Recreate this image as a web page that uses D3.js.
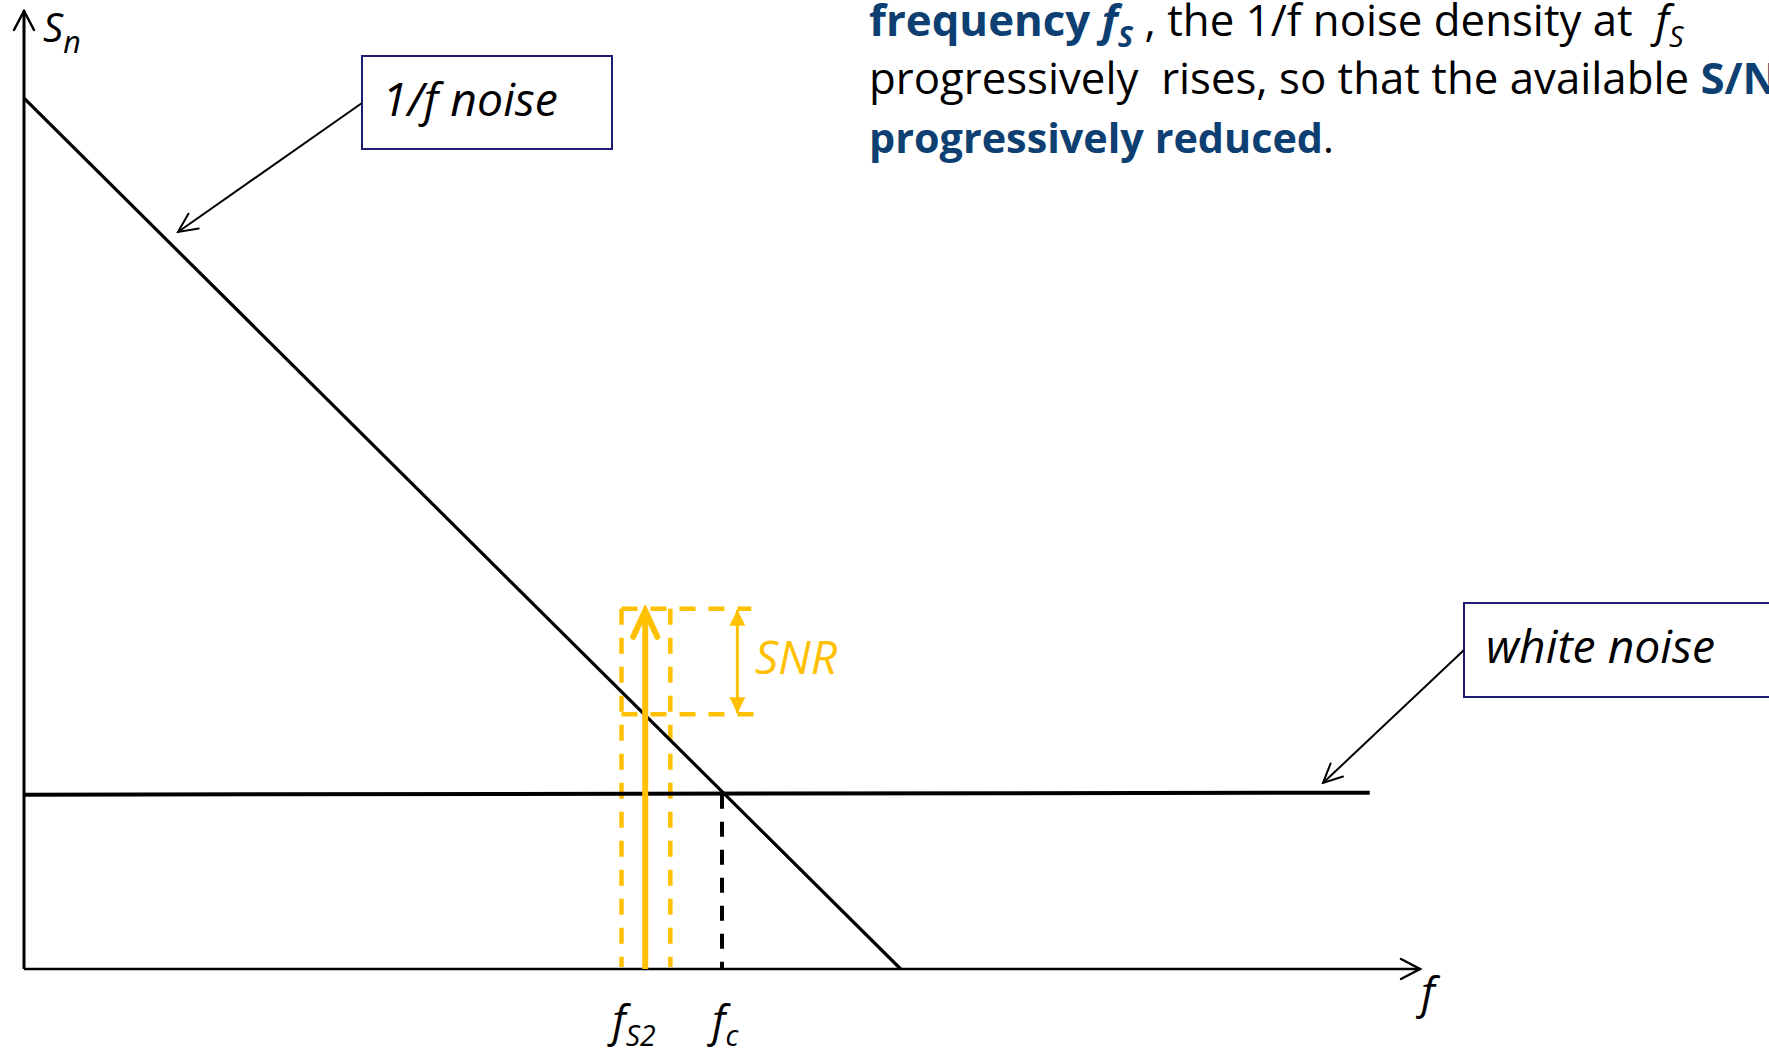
<!DOCTYPE html>
<html>
<head>
<meta charset="utf-8">
<script src="https://cdn.jsdelivr.net/npm/d3@7"></script>
<style>
  html, body { margin: 0; padding: 0; background: #fff; overflow: hidden; }
  svg { display: block; font-family: "Open Sans", "Noto Sans", sans-serif; }
  text { white-space: pre; }
</style>
</head>
<body>
<svg id="chart" width="1769" height="1052"></svg>
<script>
// ---- values (arbitrary linear units: frequency 0..10, noise density 0..10) ----
const freqDomain = [0, 10];
const densityDomain = [0, 10];
const flickerNoise = [{ f: 0, s: 9.09 }, { f: 6.28, s: 0 }];   // 1/f noise asymptote
const whiteNoise = [{ f: 0, s: 1.82 }, { f: 9.64, s: 1.84 }];  // white noise floor
const cornerFreq = 5.0;                                       // f_c
const signalFreq = 4.45;                                      // f_S2
const signalLevel = 3.76;                                     // signal amplitude at f_S2
const noiseAtSignal = 2.66;                                   // 1/f density at f_S2
const bandEdges = [4.28, 4.63];                               // band around f_S2
const snrMarkerFreq = 5.11;
const snrGuideEnds = [5.21, 5.26];                            // top / bottom guide ends
const tickLabels = [
  { f: signalFreq, main: "f", sub: "S2" },
  { f: cornerFreq, main: "f", sub: "c" }
];
const boxLabels = ["1/f noise", "white noise"];
const textLines = [
  [
    { t: "frequency ", b: 1, c: "blue" },
    { t: "f", b: 1, i: 1, c: "blue" },
    { t: "S", b: 1, i: 1, c: "blue", sub: 1 },
    { t: " , the 1/f noise density at  " },
    { t: "f", i: 1 },
    { t: "S", i: 1, sub: 1 }
  ],
  [
    { t: "progressively  rises, so that the available " },
    { t: "S/N", b: 1, c: "blue" }
  ],
  [
    { t: "progressively reduced", b: 1, c: "blue" },
    { t: "." }
  ]
];

// ---- styles ----
const BLUE = "#0d3f72";
const GOLD = "#ffc000";
const NAVY = "#1c1c73";

const svg = d3.select("#chart");
const x = d3.scaleLinear().domain(freqDomain).range([24, 1420]);
const y = d3.scaleLinear().domain(densityDomain).range([969, 11]);
const line = d3.line().x(d => x(d.f)).y(d => y(d.s));

// ---- markers ----
const defs = svg.append("defs");
function chevron(id, w, h, sw, color) {
  defs.append("marker").attr("id", id)
    .attr("viewBox", `${-h - sw} ${-w - sw} ${h + 2 * sw} ${2 * w + 2 * sw}`)
    .attr("markerUnits", "userSpaceOnUse")
    .attr("markerWidth", h + 2 * sw).attr("markerHeight", 2 * w + 2 * sw)
    .attr("refX", 0).attr("refY", 0).attr("orient", "auto")
    .append("path").attr("d", `M${-h},${-w}L0,0L${-h},${w}`)
    .attr("fill", "none").attr("stroke", color).attr("stroke-width", sw)
    .attr("stroke-linecap", "round").attr("stroke-linejoin", "miter");
}
chevron("axisHead", 10, 19, 2.5, "#000");
chevron("callHead", 9, 19, 2, "#000");
chevron("sigHead", 12, 26, 6, GOLD);
defs.append("marker").attr("id", "triHead")
  .attr("viewBox", "-16 -9 17 18").attr("markerUnits", "userSpaceOnUse")
  .attr("markerWidth", 17).attr("markerHeight", 18)
  .attr("refX", 0).attr("refY", 0).attr("orient", "auto-start-reverse")
  .append("path").attr("d", "M-16,-8L0,0L-16,8Z").attr("fill", GOLD);

// ---- axes ----
svg.append("line").attr("x1", x(0)).attr("y1", y(0)).attr("x2", x(0)).attr("y2", y(10))
  .attr("stroke", "#000").attr("stroke-width", 3).attr("marker-end", "url(#axisHead)");
svg.append("line").attr("x1", x(0)).attr("y1", y(0)).attr("x2", x(10)).attr("y2", y(0))
  .attr("stroke", "#000").attr("stroke-width", 2.5).attr("marker-end", "url(#axisHead)");

// ---- signal band (dashed gold) ----
const dash = "16 13";
bandEdges.forEach(f => {
  svg.append("line").attr("x1", x(f)).attr("y1", y(signalLevel)).attr("x2", x(f)).attr("y2", y(0) - 2)
    .attr("stroke", GOLD).attr("stroke-width", 4.5).attr("stroke-dasharray", dash);
});
svg.append("line").attr("x1", x(bandEdges[0])).attr("y1", y(signalLevel))
  .attr("x2", x(snrGuideEnds[0])).attr("y2", y(signalLevel))
  .attr("stroke", GOLD).attr("stroke-width", 4.5).attr("stroke-dasharray", dash);
svg.append("line").attr("x1", x(bandEdges[0])).attr("y1", y(noiseAtSignal))
  .attr("x2", x(snrGuideEnds[1])).attr("y2", y(noiseAtSignal))
  .attr("stroke", GOLD).attr("stroke-width", 4.5).attr("stroke-dasharray", dash);

// ---- corner frequency guide ----
svg.append("line").attr("x1", x(cornerFreq)).attr("y1", y(1.83)).attr("x2", x(cornerFreq)).attr("y2", y(0))
  .attr("stroke", "#000").attr("stroke-width", 4).attr("stroke-dasharray", "15 13");

// ---- noise curves ----
svg.append("path").datum(flickerNoise).attr("d", line)
  .attr("fill", "none").attr("stroke", "#000").attr("stroke-width", 3.2);
svg.append("path").datum(whiteNoise).attr("d", line)
  .attr("fill", "none").attr("stroke", "#000").attr("stroke-width", 4);

// ---- signal arrow ----
svg.append("line").attr("x1", x(signalFreq)).attr("y1", y(0)).attr("x2", x(signalFreq)).attr("y2", y(signalLevel) + 2)
  .attr("stroke", GOLD).attr("stroke-width", 6).attr("marker-end", "url(#sigHead)");

// ---- SNR double arrow ----
svg.append("line").attr("x1", x(snrMarkerFreq)).attr("y1", y(signalLevel) + 1)
  .attr("x2", x(snrMarkerFreq)).attr("y2", y(noiseAtSignal) - 1)
  .attr("stroke", GOLD).attr("stroke-width", 3)
  .attr("marker-start", "url(#triHead)").attr("marker-end", "url(#triHead)");

// ---- text helpers ----
function drawRich(parent, parts, px, py, size, opts = {}) {
  const t = parent.append("text").attr("x", px).attr("y", py);
  function render(sz) {
    t.selectAll("tspan").remove();
    t.style("font-size", sz + "px");
    let shifted = false;
    parts.forEach(p => {
      const ts = t.append("tspan").text(p.t)
        .style("font-weight", p.b ? 700 : 400)
        .style("font-style", p.i || opts.italic ? "italic" : "normal")
        .attr("fill", p.c === "blue" ? BLUE : (opts.color || "#000"));
      if (p.sub) {
        ts.style("font-size", (sz * (opts.subScale || 0.62)) + "px");
        if (!shifted) { ts.attr("dy", sz * (opts.subShift || 0.22)); shifted = true; }
      } else if (shifted) {
        ts.attr("dy", -sz * (opts.subShift || 0.22)); shifted = false;
      }
    });
  }
  render(size);
  if (opts.width) {
    const w = t.node().getComputedTextLength();
    render(size * opts.width / w);
  }
  return t;
}

// ---- axis titles ----
drawRich(svg, [{ t: "S", i: 1 }, { t: "n", i: 1, sub: 1 }], 43, 42, 40, { subScale: 0.76, subShift: 0.28 });
drawRich(svg, [{ t: "f", i: 1 }], 1421, 1008, 44);

// ---- frequency labels ----
tickLabels.forEach(d => {
  drawRich(svg, [{ t: d.main, i: 1 }, { t: d.sub, i: 1, sub: 1 }], x(d.f) - 33 + (d.sub === "c" ? 23 : 0), 1036, 43,
    { subScale: 0.66, subShift: 0.24 });
});

// ---- callout boxes ----
svg.append("rect").attr("x", 362).attr("y", 56).attr("width", 250).attr("height", 93)
  .attr("fill", "#fff").attr("stroke", NAVY).attr("stroke-width", 2);
drawRich(svg, [{ t: boxLabels[0] }], 382, 116, 38, { italic: 1, width: 176 });
svg.append("line").attr("x1", 362).attr("y1", 103).attr("x2", 178).attr("y2", 232)
  .attr("stroke", "#000").attr("stroke-width", 2).attr("marker-end", "url(#callHead)");

svg.append("rect").attr("x", 1464).attr("y", 603).attr("width", 340).attr("height", 94)
  .attr("fill", "#fff").attr("stroke", NAVY).attr("stroke-width", 2);
drawRich(svg, [{ t: boxLabels[1] }], 1486, 663, 38, { italic: 1, width: 229 });
svg.append("line").attr("x1", 1464).attr("y1", 650).attr("x2", 1323).attr("y2", 783)
  .attr("stroke", "#000").attr("stroke-width", 2).attr("marker-end", "url(#callHead)");

// ---- SNR label ----
drawRich(svg, [{ t: "SNR" }], 755, 674, 40, { italic: 1, color: GOLD, width: 82 });

// ---- explanatory text ----
const l1 = drawRich(svg, textLines[0], 869, 36, 34, { width: 815, subScale: 0.66, subShift: 0.24 });
const sz = parseFloat(l1.style("font-size"));
drawRich(svg, textLines[1], 869, 94, sz);
drawRich(svg, textLines[2], 869, 153, 34, { width: 465 });
</script>
</body>
</html>
